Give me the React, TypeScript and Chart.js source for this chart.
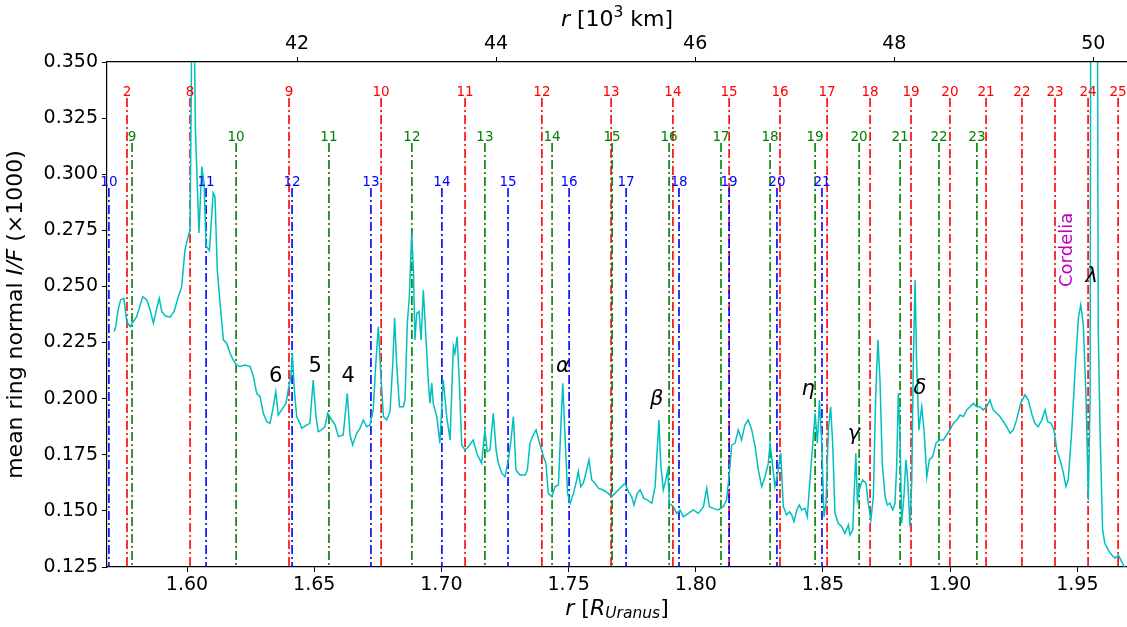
import { useEffect, useRef } from 'react';
import { Chart, registerables } from 'chart.js';

Chart.register(...registerables);

// 1 R_Uranus in 10^3 km
const KM_PER_RU = 25.559;
const X_MIN = 1.56855;
const X_MAX = 1.9695;
const Y_MIN = 0.125;
const Y_MAX = 0.35;

const xTicks = [1.6, 1.65, 1.7, 1.75, 1.8, 1.85, 1.9, 1.95];
const yTicks = [0.125, 0.15, 0.175, 0.2, 0.225, 0.25, 0.275, 0.3, 0.325, 0.35];
const topTicks = [42, 44, 46, 48, 50];

// ring profile: radius (R_Uranus) and mean ring normal I/F (x1000)
const profileR = [
  1.5713, 1.5720, 1.5729, 1.5739, 1.5752, 1.5763, 1.5776, 1.5789, 1.5802, 1.5826,
  1.5842, 1.5855, 1.5868, 1.5878, 1.5891, 1.5901, 1.5914, 1.5933, 1.5949, 1.5966,
  1.5979, 1.5992, 1.6001, 1.6012, 1.6023, 1.6033, 1.6038, 1.6047, 1.6058, 1.6067,
  1.6075, 1.6088, 1.6103, 1.6110, 1.6119, 1.6130, 1.6143, 1.6156, 1.6169, 1.6182,
  1.6195, 1.6208, 1.6228, 1.6248, 1.6261, 1.6274, 1.6287, 1.6300, 1.6313, 1.6326,
  1.6337, 1.6349, 1.6359, 1.6372, 1.6389, 1.6400, 1.6408, 1.6414, 1.6421, 1.6431,
  1.6444, 1.6451, 1.6471, 1.6483, 1.6496, 1.6507, 1.6516, 1.6529, 1.6542, 1.6553,
  1.6569, 1.6582, 1.6595, 1.6614, 1.6630, 1.6641, 1.6651, 1.6667, 1.6680, 1.6693,
  1.6706, 1.6719, 1.6732, 1.6743, 1.6752, 1.6761, 1.6772, 1.6785, 1.6798, 1.6809,
  1.6816, 1.6824, 1.6835, 1.6850, 1.6857, 1.6866, 1.6874, 1.6883, 1.6890, 1.6896,
  1.6903, 1.6912, 1.6920, 1.6929, 1.6939, 1.6949, 1.6955, 1.6962, 1.6968, 1.6982,
  1.6994, 1.7007, 1.7021, 1.7034, 1.7047, 1.7053, 1.7062, 1.7070, 1.7080, 1.7093,
  1.7106, 1.7125, 1.7139, 1.7158, 1.7171, 1.7180, 1.7191, 1.7204, 1.7215, 1.7224,
  1.7237, 1.7250, 1.7263, 1.7272, 1.7283, 1.7293, 1.7309, 1.7329, 1.7338, 1.7348,
  1.7361, 1.7372, 1.7381, 1.7390, 1.7401, 1.7411, 1.7420, 1.7434, 1.7447, 1.7460,
  1.7469, 1.7477, 1.7486, 1.7496, 1.7506, 1.7519, 1.7532, 1.7538, 1.7548, 1.7558,
  1.7571, 1.7580, 1.7591, 1.7604, 1.7617, 1.7636, 1.7656, 1.7669, 1.7682, 1.7702,
  1.7722, 1.7735, 1.7748, 1.7757, 1.7770, 1.7781, 1.7796, 1.7809, 1.7827, 1.7840,
  1.7849, 1.7855, 1.7862, 1.7872, 1.7882, 1.7890, 1.7896, 1.7912, 1.7925, 1.7938,
  1.7951, 1.7971, 1.7990, 1.8010, 1.8030, 1.8043, 1.8053, 1.8069, 1.8088, 1.8108,
  1.8121, 1.8132, 1.8141, 1.8154, 1.8167, 1.8180, 1.8193, 1.8206, 1.8220, 1.8233,
  1.8246, 1.8259, 1.8272, 1.8285, 1.8292, 1.8301, 1.8311, 1.8324, 1.8334, 1.8344,
  1.8357, 1.8368, 1.8377, 1.8386, 1.8397, 1.8407, 1.8416, 1.8429, 1.8438, 1.8449,
  1.8460, 1.8469, 1.8478, 1.8486, 1.8495, 1.8504, 1.8512, 1.8521, 1.8530, 1.8538,
  1.8547, 1.8560, 1.8574, 1.8586, 1.8600, 1.8606, 1.8617, 1.8622, 1.8629, 1.8635,
  1.8646, 1.8656, 1.8669, 1.8678, 1.8688, 1.8698, 1.8707, 1.8716, 1.8724, 1.8733,
  1.8744, 1.8753, 1.8763, 1.8774, 1.8783, 1.8790, 1.8796, 1.8803, 1.8809, 1.8818,
  1.8826, 1.8833, 1.8842, 1.8849, 1.8855, 1.8862, 1.8868, 1.8877, 1.8888, 1.8897,
  1.8908, 1.8918, 1.8931, 1.8944, 1.8957, 1.8973, 1.8986, 1.8999, 1.9012, 1.9026,
  1.9039, 1.9052, 1.9065, 1.9078, 1.9091, 1.9104, 1.9117, 1.9130, 1.9143, 1.9156,
  1.9169, 1.9183, 1.9196, 1.9209, 1.9222, 1.9235, 1.9248, 1.9261, 1.9277, 1.9294,
  1.9307, 1.9320, 1.9333, 1.9346, 1.9360, 1.9373, 1.9383, 1.9396, 1.9408, 1.9419,
  1.9432, 1.9445, 1.9455, 1.9464, 1.9478, 1.9491, 1.9504, 1.9513, 1.9523, 1.9534,
  1.9543, 1.9550, 1.9554, 1.9576, 1.9582, 1.9589, 1.9599, 1.9608, 1.9621, 1.9635,
  1.9648, 1.9661, 1.9674, 1.9687,
];

const profileIF = [
  0.2299, 0.2321, 0.2395, 0.2440, 0.2447, 0.2343, 0.2321, 0.2343, 0.2365, 0.2454,
  0.2440, 0.2395, 0.2336, 0.2388, 0.2447, 0.2388, 0.2369, 0.2363, 0.2388, 0.2454,
  0.2499, 0.2663, 0.2707, 0.2750, 0.4200, 0.3200, 0.3034, 0.2738, 0.3034, 0.2960,
  0.2680, 0.2660, 0.2917, 0.2900, 0.2573, 0.2425, 0.2262, 0.2247, 0.2202, 0.2172,
  0.2150, 0.2143, 0.2150, 0.2143, 0.2098, 0.2024, 0.2009, 0.1935, 0.1898, 0.1890,
  0.1950, 0.2031, 0.1927, 0.1950, 0.1979, 0.2053, 0.2098, 0.2202, 0.2053, 0.1920,
  0.1890, 0.1868, 0.1883, 0.1890, 0.2083, 0.1920, 0.1853, 0.1861, 0.1875, 0.1935,
  0.1905, 0.1883, 0.1831, 0.1838, 0.2024, 0.1838, 0.1794, 0.1846, 0.1868, 0.1905,
  0.1875, 0.1883, 0.1950, 0.2172, 0.2321, 0.2128, 0.1920, 0.1905, 0.1942, 0.2158,
  0.2360, 0.2158, 0.1964, 0.1964, 0.1994, 0.2336, 0.2454, 0.2737, 0.2573, 0.2262,
  0.2380, 0.2388, 0.2262, 0.2484, 0.2276, 0.2069, 0.1979, 0.2069, 0.1979, 0.1920,
  0.1801, 0.2083, 0.1920, 0.1816, 0.2232, 0.2202, 0.2276, 0.2083, 0.1794, 0.1771,
  0.1786, 0.1816, 0.1757, 0.1712, 0.1861, 0.1764, 0.1771, 0.1935, 0.1771, 0.1712,
  0.1668, 0.1652, 0.1727, 0.1801, 0.1920, 0.1682, 0.1660, 0.1660, 0.1682, 0.1801,
  0.1838, 0.1861, 0.1823, 0.1786, 0.1742, 0.1712, 0.1578, 0.1563, 0.1608, 0.1615,
  0.1861, 0.2069, 0.1831, 0.1578, 0.1534, 0.1578, 0.1638, 0.1675, 0.1608, 0.1623,
  0.1682, 0.1727, 0.1638, 0.1623, 0.1601, 0.1593, 0.1578, 0.1563, 0.1578, 0.1601,
  0.1623, 0.1586, 0.1563, 0.1526, 0.1578, 0.1593, 0.1556, 0.1549, 0.1534, 0.1608,
  0.1786, 0.1905, 0.1712, 0.1593, 0.1638, 0.1682, 0.1534, 0.1519, 0.1489, 0.1504,
  0.1474, 0.1489, 0.1504, 0.1489, 0.1519, 0.1601, 0.1519, 0.1511, 0.1504, 0.1519,
  0.1549, 0.1668, 0.1794, 0.1801, 0.1861, 0.1816, 0.1883, 0.1905, 0.1861, 0.1786,
  0.1682, 0.1608, 0.1652, 0.1712, 0.1801, 0.1712, 0.1608, 0.1682, 0.1757, 0.1519,
  0.1482, 0.1496, 0.1482, 0.1452, 0.1504, 0.1526, 0.1504, 0.1511, 0.1474, 0.1638,
  0.1801, 0.1935, 0.1801, 0.1994, 0.1801, 0.1474, 0.1534, 0.1861, 0.1964, 0.1801,
  0.1489, 0.1445, 0.1430, 0.1400, 0.1437, 0.1393, 0.1415, 0.1563, 0.1757, 0.1549,
  0.1608, 0.1638, 0.1623, 0.1534, 0.1459, 0.1563, 0.2009, 0.2262, 0.2083, 0.1712,
  0.1563, 0.1526, 0.1534, 0.1504, 0.1534, 0.1712, 0.2024, 0.1831, 0.1445, 0.1563,
  0.1727, 0.1638, 0.1430, 0.1638, 0.2158, 0.2529, 0.2158, 0.1861, 0.1964, 0.1861,
  0.1652, 0.1727, 0.1742, 0.1801, 0.1816, 0.1816, 0.1838, 0.1861, 0.1890, 0.1905,
  0.1927, 0.1920, 0.1950, 0.1964, 0.1979, 0.1964, 0.1964, 0.1950, 0.1964, 0.1994,
  0.1950, 0.1935, 0.1920, 0.1898, 0.1875, 0.1846, 0.1861, 0.1905, 0.1979, 0.2017,
  0.1994, 0.1935, 0.1890, 0.1875, 0.1905, 0.1950, 0.1898, 0.1890, 0.1861, 0.1771,
  0.1727, 0.1668, 0.1608, 0.1638, 0.1861, 0.2128, 0.2360, 0.2418, 0.2336, 0.2009,
  0.1549, 0.2009, 0.5000, 0.5000, 0.2306, 0.1861, 0.1415, 0.1356, 0.1326, 0.1303,
  0.1289, 0.1303, 0.1274, 0.1245,
];

// Cordelia resonance locations (R_Uranus)
const redLabels = [2, 8, 9, 10, 11, 12, 13, 14, 15, 16, 17, 18, 19, 20, 21, 22, 23, 24, 25];
const redR = [1.5764, 1.6012, 1.6401, 1.6763, 1.7093, 1.7395, 1.7667, 1.7910, 1.8131, 1.8331,
  1.8516, 1.8685, 1.8846, 1.8999, 1.9141, 1.9282, 1.9412, 1.9542, 1.9660];
const greenLabels = [9, 10, 11, 12, 13, 14, 15, 16, 17, 18, 19, 20, 21, 22, 23];
const greenR = [1.5784, 1.6193, 1.6558, 1.6884, 1.7171, 1.7435, 1.7671, 1.7895, 1.8099, 1.8292,
  1.8469, 1.8642, 1.8803, 1.8956, 1.9105];
const blueLabels = [10, 11, 12, 13, 14, 15, 16, 17, 18, 19, 20, 21];
const blueR = [1.5693, 1.6075, 1.6413, 1.6723, 1.7002, 1.7262, 1.7502, 1.7726, 1.7934, 1.8131,
  1.8319, 1.8496];

// ring name annotations
const ringNames = ['6', '5', '4', 'α', 'β', 'η', 'γ', 'δ', 'λ'];
const ringNameR = [1.6349, 1.6504, 1.6634, 1.7478, 1.7846, 1.8442, 1.8622, 1.8881, 1.9556];
const ringNameIF = [0.2098, 0.2143, 0.2098, 0.2143, 0.1994, 0.2039, 0.1838, 0.2046, 0.2544];
const ringNameItalic = [false, false, false, true, true, true, true, true, true];

const moonName = 'Cordelia';
const moonR = 1.9459;
const moonIF = 0.2663;

const FONT = '"DejaVu Sans", "Liberation Sans", sans-serif';
const DASH = [9, 3, 2, 3];

const groups = [
  { color: '#ff0000', labels: redLabels, r: redR, top: 0.3340 },
  { color: '#008000', labels: greenLabels, r: greenR, top: 0.3139 },
  { color: '#0000ff', labels: blueLabels, r: blueR, top: 0.2939 },
];

type Part = { t: string; font: string; dy?: number };

function drawRich(ctx: CanvasRenderingContext2D, parts: Part[], cx: number, cy: number) {
  let total = 0;
  parts.forEach((p) => {
    ctx.font = p.font;
    total += ctx.measureText(p.t).width;
  });
  let x = cx - total / 2;
  ctx.textAlign = 'left';
  ctx.textBaseline = 'middle';
  parts.forEach((p) => {
    ctx.font = p.font;
    ctx.fillText(p.t, x, cy + (p.dy || 0));
    x += ctx.measureText(p.t).width;
  });
}

const overlayPlugin = {
  id: 'overlay',
  afterDatasetsDraw(chart: any) {
    const ctx: CanvasRenderingContext2D = chart.ctx;
    const xs = chart.scales.x;
    const ys = chart.scales.y;
    ctx.save();
    // resonance labels
    ctx.font = `13.5px ${FONT}`;
    ctx.textAlign = 'center';
    ctx.textBaseline = 'alphabetic';
    groups.forEach((g) => {
      ctx.fillStyle = g.color;
      g.r.forEach((r, i) => {
        ctx.fillText(String(g.labels[i]), xs.getPixelForValue(r), ys.getPixelForValue(g.top) - 2);
      });
    });
    // ring names
    ctx.fillStyle = '#000000';
    ctx.textBaseline = 'middle';
    ringNames.forEach((n, i) => {
      ctx.font = `${ringNameItalic[i] ? 'italic ' : ''}21px ${FONT}`;
      ctx.fillText(n, xs.getPixelForValue(ringNameR[i]), ys.getPixelForValue(ringNameIF[i]));
    });
    // moon name
    ctx.save();
    ctx.translate(xs.getPixelForValue(moonR), ys.getPixelForValue(moonIF));
    ctx.rotate(-Math.PI / 2);
    ctx.fillStyle = '#bf00bf';
    ctx.font = `18px ${FONT}`;
    ctx.textAlign = 'center';
    ctx.fillText(moonName, 0, 0);
    ctx.restore();
    ctx.restore();
  },
  afterDraw(chart: any) {
    const ctx: CanvasRenderingContext2D = chart.ctx;
    const area = chart.chartArea;
    const cxm = (area.left + area.right) / 2;
    ctx.save();
    ctx.fillStyle = '#000000';
    const n = `22px ${FONT}`;
    const it = `italic 22px ${FONT}`;
    drawRich(ctx, [
      { t: 'r', font: it },
      { t: ' [', font: n },
      { t: 'R', font: it },
      { t: 'Uranus', font: `italic 15.5px ${FONT}`, dy: 5 },
      { t: ']', font: n },
    ], cxm, 609);
    drawRich(ctx, [
      { t: 'r', font: it },
      { t: ' [10', font: n },
      { t: '3', font: `15.5px ${FONT}`, dy: -7 },
      { t: ' km]', font: n },
    ], cxm, 20);
    ctx.translate(16, (area.top + area.bottom) / 2);
    ctx.rotate(-Math.PI / 2);
    drawRich(ctx, [
      { t: 'mean ring normal ', font: n },
      { t: 'I/F', font: it },
      { t: ' (×1000)', font: n },
    ], 0, 0);
    ctx.restore();
  },
};

export default function App() {
  const canvasRef = useRef<HTMLCanvasElement | null>(null);

  useEffect(() => {
    const canvas = canvasRef.current;
    if (!canvas) return;

    const datasets: any[] = [
      {
        label: 'profile',
        data: profileR.map((r, i) => ({ x: r, y: profileIF[i] })),
        borderColor: '#00bfbf',
        backgroundColor: '#00bfbf',
        borderWidth: 1.5,
        pointRadius: 0,
        tension: 0,
        xAxisID: 'x',
        yAxisID: 'y',
      },
    ];
    // blue drawn above red/green where overlapping
    [groups[2], groups[1], groups[0]].forEach((g) => {
      g.r.forEach((r) => {
        datasets.push({
          label: 'res',
          data: [
            { x: r, y: g.top },
            { x: r, y: Y_MIN },
          ],
          borderColor: g.color,
          borderWidth: 1.6,
          borderDash: DASH,
          pointRadius: 0,
          xAxisID: 'x',
          yAxisID: 'y',
        });
      });
    });

    const tickFont = { family: FONT, size: 19 };

    const chart = new Chart(canvas, {
      type: 'line',
      data: { datasets },
      plugins: [overlayPlugin],
      options: {
        animation: false,
        responsive: false,
        devicePixelRatio: 1,
        layout: { padding: 0 },
        plugins: { legend: { display: false }, tooltip: { enabled: false } },
        scales: {
          x: {
            type: 'linear',
            position: 'bottom',
            min: X_MIN,
            max: X_MAX,
            afterBuildTicks: (s: any) => {
              s.ticks = xTicks.map((v) => ({ value: v }));
            },
            afterFit: (s: any) => {
              s.height = 60;
            },
            ticks: {
              font: tickFont,
              color: '#000',
              padding: 2,
              maxRotation: 0,
              autoSkip: false,
              callback: (v: any) => Number(v).toFixed(2),
            },
            grid: { drawOnChartArea: false, drawTicks: true, tickLength: 5, color: '#000', lineWidth: 1 },
            border: { display: true, color: '#000', width: 1.2 },
          },
          x2: {
            type: 'linear',
            position: 'top',
            min: X_MIN * KM_PER_RU,
            max: X_MAX * KM_PER_RU,
            afterBuildTicks: (s: any) => {
              s.ticks = topTicks.map((v) => ({ value: v }));
            },
            afterFit: (s: any) => {
              s.height = 62;
            },
            ticks: {
              font: tickFont,
              color: '#000',
              padding: 2,
              maxRotation: 0,
              autoSkip: false,
              callback: (v: any) => String(v),
            },
            grid: { drawOnChartArea: false, drawTicks: true, tickLength: 5, color: '#000', lineWidth: 1 },
            border: { display: true, color: '#000', width: 1.2 },
          },
          y: {
            type: 'linear',
            position: 'left',
            min: Y_MIN,
            max: Y_MAX,
            afterBuildTicks: (s: any) => {
              s.ticks = yTicks.map((v) => ({ value: v }));
            },
            afterFit: (s: any) => {
              s.width = 107;
            },
            ticks: {
              font: tickFont,
              color: '#000',
              padding: 4,
              autoSkip: false,
              callback: (v: any) => Number(v).toFixed(3),
            },
            grid: { drawOnChartArea: false, drawTicks: true, tickLength: 5, color: '#000', lineWidth: 1 },
            border: { display: true, color: '#000', width: 1.2 },
          },
        },
      } as any,
    });

    return () => {
      chart.destroy();
    };
  }, []);

  return (
    <div style={{ position: 'fixed', left: 0, top: 0, width: 1127, height: 627, background: '#fff' }}>
      <canvas ref={canvasRef} width={1127} height={627} style={{ display: 'block' }} />
    </div>
  );
}
